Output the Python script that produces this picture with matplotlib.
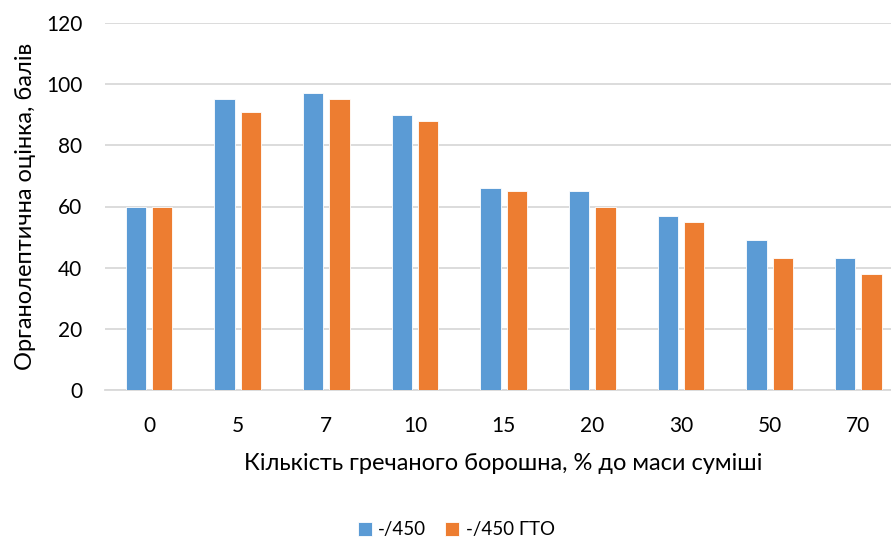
import matplotlib

matplotlib.use("Agg")

import matplotlib.pyplot as plt
import numpy as np

plt.rcParams["font.family"] = ["Lato", "DejaVu Sans"]

categories = ["0", "5", "7", "10", "15", "20", "30", "50", "70"]
series_a = [60, 95, 97, 90, 66, 65, 57, 49, 43]
series_b = [60, 91, 95, 88, 65, 60, 55, 43, 38]
labels = ["-/450", "-/450 ГТО"]
colors = ["#5B9BD5", "#ED7D31"]

W, H = 891, 540
fig = plt.figure(figsize=(W / 100, H / 100), dpi=100)
# plot area in pixels: x 104.7..902.6 (right edge runs past the figure), y 23..390
ax = fig.add_axes([104.7 / W, 1 - 390 / H, (902.6 - 104.7) / W, (390 - 23) / H])

x = np.arange(len(categories))
w = 0.23
off = 0.149
ax.bar(x - off, series_a, w, color=colors[0], label=labels[0], zorder=3,
       edgecolor="white", linewidth=0.6)
ax.bar(x + off, series_b, w, color=colors[1], label=labels[1], zorder=3,
       edgecolor="white", linewidth=0.6)

ax.set_xlim(-0.5, len(categories) - 0.5)
ax.set_ylim(0, 120)
ax.set_yticks(range(0, 121, 20))
ax.set_xticks(x)
ax.set_xticklabels(categories)
ax.yaxis.grid(True, color="#d9d9d9", linewidth=1.3, zorder=0)
ax.set_axisbelow(True)
for s in ["top", "right", "left"]:
    ax.spines[s].set_visible(False)
ax.spines["bottom"].set_color("#d9d9d9")
ax.spines["bottom"].set_linewidth(1.3)
ax.tick_params(length=0, labelsize=15, colors="#000000")
ax.tick_params(axis="x", pad=19)
ax.tick_params(axis="y", pad=16)

ax.set_xlabel("Кількість гречаного борошна, % до маси суміші", fontsize=17, labelpad=12)
ax.set_ylabel("Органолептична оцінка, балів", fontsize=17, labelpad=7)

fig.legend(loc="center", bbox_to_anchor=(0.512, 1 - 530 / H), ncol=2, frameon=False,
           fontsize=13.5, handlelength=0.75, handleheight=0.75, columnspacing=1.0,
           handletextpad=0.35, borderaxespad=0)

fig.savefig("out.png", dpi=100)
